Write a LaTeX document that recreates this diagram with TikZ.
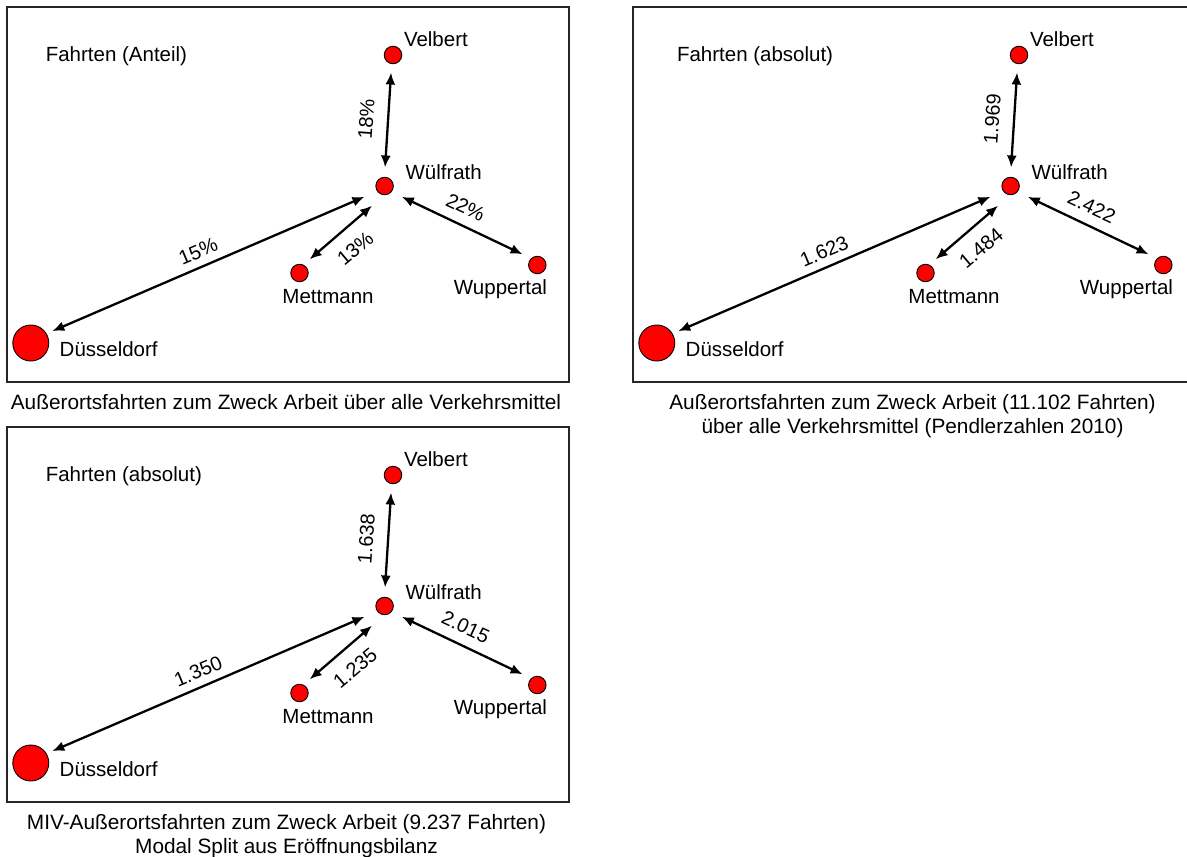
\documentclass[tikz,border=0pt]{standalone}
\usepackage{fontspec}
\setmainfont{Liberation Sans}
\usetikzlibrary{arrows.meta}
\tikzset{
  every node/.style={inner sep=0pt, outer sep=0pt},
  dot/.style={circle, draw=black, line width=0.9pt, fill=red, minimum size=17.5pt},
  bigdot/.style={dot, minimum size=36pt},
  txt/.style={font=\fontsize{20.5}{24}\selectfont, text height=14.7pt, text depth=0pt},
  captxt/.style={font=\fontsize{20.8}{24}\selectfont, text height=14.9pt, text depth=0pt},
  lbl/.style={font=\fontsize{20}{24}\selectfont, text height=14.3pt, text depth=0pt},
  arr/.style={line width=2.3pt, {Latex[length=12pt,width=10pt]}-{Latex[length=12pt,width=10pt]}},
  frame/.style={line width=1.5pt, draw=black!85}
}
\newcommand\mypanel[8]{%
  % #1 prefix, #2 shift, #3 title, #4 title x, #5 V, #6 D, #7 M, #8 W
  \begin{scope}[shift={#2}]
    \draw[frame] (7,7) rectangle (569,382);
    \node[txt, anchor=west] (#1title) at (#4,54) {#3};
    \node[dot] (#1wul) at (384.6,186) {};
    \node[dot] (#1vel) at (393,55) {};
    \node[dot] (#1met) at (299.5,273) {};
    \node[dot] (#1wup) at (537.3,265) {};
    \node[bigdot] (#1dus) at (30.8,343) {};
    \node[txt, anchor=west] (#1wull) at (405.5,172) {Wülfrath};
    \node[txt, anchor=west] (#1vell) at (404,39) {Velbert};
    \node[txt] (#1metl) at (328,296) {Mettmann};
    \node[txt] (#1wupl) at (500.5,287.5) {Wuppertal};
    \node[txt, anchor=west] (#1dusl) at (59.7,349) {Düsseldorf};
    \draw[arr, shorten <=8.9pt, shorten >=9.8pt] (#1vel.261) -- (#1wul.91);
    \draw[arr, shorten <=6.6pt, shorten >=14.2pt] (#1dus.31) -- (#1wul.216);
    \draw[arr, shorten <=8.7pt, shorten >=16.7pt] (#1met.66) -- (#1wul.271);
    \draw[arr, shorten <=11.7pt, shorten >=9.8pt] (#1wul.319) -- (#1wup.132);
    \node[lbl, rotate=86] (#1lv) at (366,119) {#5};
    \node[lbl, rotate=23] (#1ld) at (198,251) {#6};
    \node[lbl, rotate=40] (#1lm) at (355,248) {#7};
    \node[lbl, rotate=-25] (#1lw) at (465.7,207) {#8};
  \end{scope}%
}
\begin{document}
\begin{tikzpicture}[x=1pt, y=-1pt]
  \useasboundingbox (0,0) rectangle (1187,857);
  \clip (0,0) rectangle (1187,857);
  \mypanel{a}{(0,0)}{Fahrten (Anteil)}{45.8}{18\%}{15\%}{13\%}{22\%}
  \mypanel{b}{(626,0)}{Fahrten (absolut)}{51}{1.969}{1.623}{1.484}{2.422}
  \mypanel{c}{(0,420)}{Fahrten (absolut)}{45.8}{1.638}{1.350}{1.235}{2.015}
  \node[captxt] (capa) at (286,402.5) {Außerortsfahrten zum Zweck Arbeit über alle Verkehrsmittel};
  \node[captxt] (capb1) at (912.5,402.5) {Außerortsfahrten zum Zweck Arbeit (11.102 Fahrten)};
  \node[captxt] (capb2) at (912.5,426.5) {über alle Verkehrsmittel (Pendlerzahlen 2010)};
  \node[captxt] (capc1) at (286.5,822.5) {MIV-Außerortsfahrten zum Zweck Arbeit (9.237 Fahrten)};
  \node[captxt] (capc2) at (286.5,846.5) {Modal Split aus Eröffnungsbilanz};
\end{tikzpicture}
\end{document}
